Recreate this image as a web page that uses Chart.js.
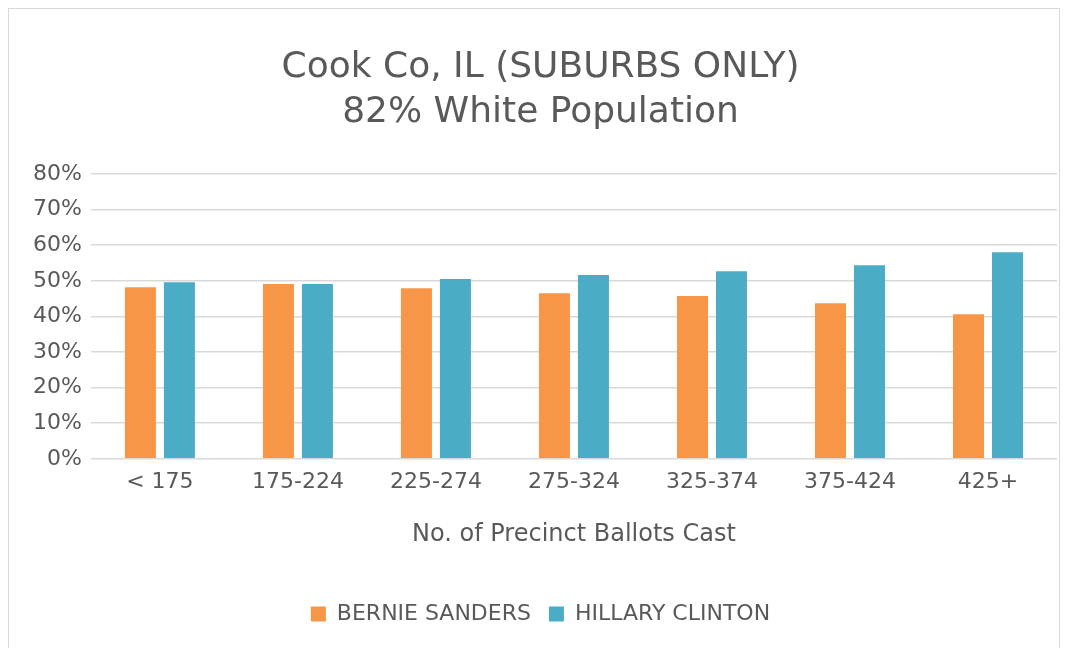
<!DOCTYPE html>
<html>
<head>
<meta charset="utf-8">
<script src="https://cdn.jsdelivr.net/npm/chart.js@4/dist/chart.umd.min.js"></script>
<style>
  html, body { margin: 0; padding: 0; background: #fff; }
  #box { position: absolute; left: 8px; top: 8px; width: 1052px; height: 648px; border: 1px solid #d9d9d9; box-sizing: border-box; }
  #chart { display: block; }
</style>
</head>
<body>
<div id="box"><canvas id="chart" width="1050" height="646"></canvas></div>
<script>
// values (fractions)
const categories = ['< 175', '175-224', '225-274', '275-324', '325-374', '375-424', '425+'];
const sanders = [0.482, 0.491, 0.479, 0.465, 0.457, 0.437, 0.406];
const clinton = [0.496, 0.491, 0.505, 0.516, 0.527, 0.544, 0.580];
const yTicks = [0, 0.1, 0.2, 0.3, 0.4, 0.5, 0.6, 0.7, 0.8];

const ORANGE = '#f79646';
const BLUE = '#4bacc6';
const TEXT = '#595959';
const GRID = '#d9d9d9';
const FONT = "'DejaVu Sans', sans-serif";

Chart.defaults.font.family = FONT;
Chart.defaults.color = TEXT;

new Chart(document.getElementById('chart').getContext('2d'), {
    type: 'bar',
    data: {
        labels: categories,
        datasets: [
            { label: 'BERNIE SANDERS', data: sanders, backgroundColor: ORANGE },
            { label: 'HILLARY CLINTON', data: clinton, backgroundColor: BLUE }
        ]
    },
    options: {
        responsive: false,
        animation: false,
        categoryPercentage: 0.565,
        barPercentage: 0.795,
        layout: { padding: { left: 15, right: 2, top: 0, bottom: 20 } },
        plugins: {
            title: {
                display: true,
                text: ['Cook Co, IL (SUBURBS ONLY)', '82% White Population'],
                font: { size: 36, weight: 'normal', lineHeight: 1.25 },
                color: TEXT,
                padding: { top: 36, bottom: 39 }
            },
            legend: {
                position: 'bottom',
                labels: { boxWidth: 15, boxHeight: 15, font: { size: 22 }, color: TEXT, padding: 18 }
            },
            tooltip: { enabled: false }
        },
        scales: {
            x: {
                grid: { display: false, drawTicks: false },
                border: { display: false },
                ticks: { font: { size: 22 }, color: TEXT, padding: 10 },
                title: { display: true, text: 'No. of Precinct Ballots Cast', font: { size: 24 }, color: TEXT, padding: { top: 15, bottom: 36 } }
            },
            y: {
                min: 0,
                max: 0.8,
                afterBuildTicks: axis => { axis.ticks = yTicks.map(v => ({ value: v })); },
                grid: { color: GRID, lineWidth: 1.5, drawTicks: false },
                border: { display: false },
                ticks: {
                    font: { size: 22 },
                    color: TEXT,
                    padding: 9,
                    callback: v => Math.round(v * 100) + '%'
                }
            }
        }
    }
});
</script>
</body>
</html>
